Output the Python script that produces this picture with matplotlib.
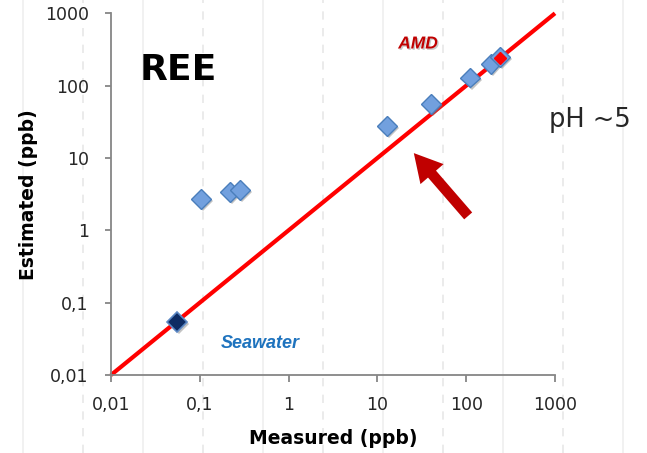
import matplotlib
matplotlib.use("Agg")
import matplotlib.pyplot as plt
import matplotlib.patheffects as pe
from matplotlib.lines import Line2D
from matplotlib.patches import FancyArrowPatch
from matplotlib.ticker import FixedLocator, FixedFormatter, NullLocator

# Measured vs estimated REE concentrations (ppb)
amd_measured = [0.104, 0.22, 0.285, 12.9, 40.0, 111, 188, 239]
amd_estimated = [2.7, 3.4, 3.6, 27.7, 56, 129, 198, 251]
seawater_measured = [0.055]
seawater_estimated = [0.054]
highlight_measured = [240]
highlight_estimated = [240]
one_to_one = [0.01, 1000]

tick_values = [0.01, 0.1, 1, 10, 100, 1000]
tick_labels = ["0,01", "0,1", "1", "10", "100", "1000"]

W, H = 647, 453
fig = plt.figure(figsize=(W / 100, H / 100), dpi=100)
fig.patch.set_facecolor("white")

# faint vertical guide lines across the slide
for i, xp in enumerate(range(23, W, 60)):
    solid = (i % 2 == 0)
    fig.add_artist(Line2D([xp / W, xp / W], [0, 1], transform=fig.transFigure,
                          color="#efefef" if solid else "#e8e8e8", lw=1.2,
                          ls="-" if solid else (0, (5, 5)), zorder=-10))

ax = fig.add_axes([111 / W, (H - 375) / H, (555 - 111) / W, (375 - 13.3) / H])
ax.set_facecolor("none")
ax.set_xscale("log")
ax.set_yscale("log")
ax.set_xlim(0.01, 1000)
ax.set_ylim(0.01, 1000)

for s in ("top", "right"):
    ax.spines[s].set_visible(False)
for s in ("left", "bottom"):
    ax.spines[s].set_color("#868686")
    ax.spines[s].set_linewidth(1.3)

for axis in (ax.xaxis, ax.yaxis):
    axis.set_major_locator(FixedLocator(tick_values))
    axis.set_major_formatter(FixedFormatter(tick_labels))
    axis.set_minor_locator(NullLocator())
ax.tick_params(axis="both", which="major", color="#868686", width=1.3,
               labelsize=12.5, labelcolor="#262626")
ax.tick_params(axis="x", length=5, pad=10)
ax.tick_params(axis="y", length=4, pad=12)

ax.set_xlabel("Measured (ppb)", fontsize=13.5, fontweight="bold", labelpad=11)
ax.set_ylabel("Estimated (ppb)", fontsize=13.5, fontweight="bold", labelpad=5)

# 1:1 line
ax.plot(one_to_one, one_to_one, color="#ff0000", lw=3, zorder=2,
        solid_capstyle="butt", clip_on=False)

shadow = [pe.SimplePatchShadow(offset=(1.5, -1.5), shadow_rgbFace="#7a7a7a", alpha=0.45),
          pe.Normal()]
ax.plot(amd_measured, amd_estimated, ls="none", marker="D", ms=10,
        mfc="#72a0de", mec="#4a7ebb", mew=1.0, zorder=3, path_effects=shadow)
ax.plot(seawater_measured, seawater_estimated, ls="none", marker="D", ms=10,
        mfc="#0d2b63", mec="#5b87c4", mew=1.2, zorder=3, path_effects=shadow)
ax.plot(highlight_measured, highlight_estimated, ls="none", marker="D", ms=6,
        mfc="#ff0000", mec="#ff0000", zorder=4)

# annotations
fig.text(178 / W, 1 - 70 / H, "REE", fontsize=26, fontweight="bold",
         ha="center", va="center", color="black")
fig.text(418 / W, 1 - 44 / H, "AMD", fontsize=12.5, fontweight="bold", style="italic",
         family="Liberation Sans", ha="center", va="center", color="#c00000",
         path_effects=[pe.withSimplePatchShadow(offset=(1, -1), shadow_rgbFace="#999999",
                                                alpha=0.5)])
fig.text(260 / W, 1 - 343 / H, "Seawater", fontsize=13, fontweight="bold", style="italic",
         family="Liberation Sans", ha="center", va="center", color="#1e73be")
fig.text(590 / W, 1 - 120 / H, "pH ~5", fontsize=18.5, family="DejaVu Sans",
         ha="center", va="center", color="#262626")

arrow = FancyArrowPatch((470 / W, 1 - 218 / H), (412 / W, 1 - 151 / H),
                        transform=fig.transFigure,
                        arrowstyle="simple,head_length=1.0,head_width=1.1,tail_width=0.38",
                        mutation_scale=20, color="#c00000", lw=0, zorder=5)
fig.add_artist(arrow)

fig.savefig("out.png", dpi=100)
